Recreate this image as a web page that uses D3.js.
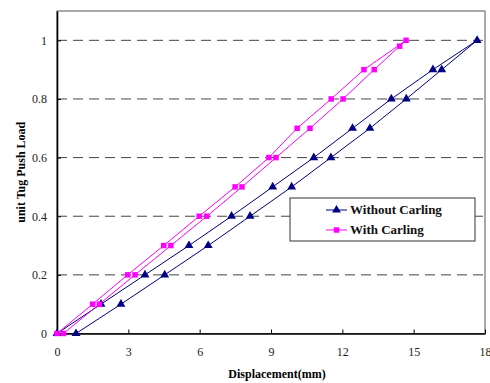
<!DOCTYPE html>
<html>
<head>
<meta charset="utf-8">
<script src="https://cdn.jsdelivr.net/npm/d3@7"></script>
<style>
  body { margin: 0; background: #fff; }
  svg text { font-family: "Liberation Serif", "Times New Roman", serif; }
</style>
</head>
<body>
<svg id="chart" width="490" height="383"></svg>
<script>
// load levels (unit tug push load), loop goes up one branch and back down the other
var loadUp = [0, 0.1, 0.2, 0.3, 0.4, 0.5, 0.6, 0.7, 0.8, 0.9, 1.0];
var noCarlingUp = [0, 1.85, 3.70, 5.55, 7.34, 9.07, 10.80, 12.43, 14.06, 15.81, 17.67];
var noCarlingDownLoad = [0.9, 0.8, 0.7, 0.6, 0.5, 0.4, 0.3, 0.2, 0.1, 0];
var noCarlingDown = [16.18, 14.69, 13.16, 11.52, 9.87, 8.12, 6.36, 4.53, 2.69, 0.80];

var withCarlingUp = [0, 1.50, 2.97, 4.49, 5.98, 7.49, 8.91, 10.10, 11.53, 12.91, 14.68];
var withCarlingDownLoad = [0.98, 0.9, 0.8, 0.7, 0.6, 0.5, 0.4, 0.3, 0.2, 0.1, 0];
var withCarlingDown = [14.41, 13.34, 12.03, 10.64, 9.21, 7.78, 6.30, 4.79, 3.28, 1.78, 0.27];

var xTicks = [0, 3, 6, 9, 12, 15, 18];
var yTicks = [0, 0.2, 0.4, 0.6, 0.8, 1];
var seriesNames = ["Without Carling", "With Carling"];

function toPoints(upX, upY, downX, downY) {
    var pts = upX.map(function(v, i) { return {x: v, y: upY[i]}; });
    downX.forEach(function(v, i) { pts.push({x: v, y: downY[i]}); });
    return pts;
}

var series = [
    {name: seriesNames[0], color: "#000080", shape: d3.symbolTriangle, size: 34,
     points: toPoints(noCarlingUp, loadUp, noCarlingDown, noCarlingDownLoad)},
    {name: seriesNames[1], color: "#FF00FF", shape: d3.symbolSquare, size: 30,
     points: toPoints(withCarlingUp, loadUp, withCarlingDown, withCarlingDownLoad)}
];

var serif = "'Liberation Serif', 'Times New Roman', serif";
var margin = {top: 11, right: 5, bottom: 49.5, left: 57};
var width = 490 - margin.left - margin.right,
    height = 383 - margin.top - margin.bottom;

var svg = d3.select("#chart")
    .append("g")
    .attr("transform", "translate(" + margin.left + "," + margin.top + ")");

var x = d3.scaleLinear().domain([0, 18]).range([0, width]);
var y = d3.scaleLinear().domain([0, 1.1]).range([height, 0]);

// dashed gridlines
svg.selectAll(".grid")
    .data(yTicks.filter(function(d) { return d > 0; }))
    .enter().append("line")
    .attr("x1", 0).attr("x2", width)
    .attr("y1", function(d) { return y(d); })
    .attr("y2", function(d) { return y(d); })
    .attr("stroke", "#444")
    .attr("stroke-width", 1)
    .attr("stroke-dasharray", "10,6");

// frame
svg.append("rect")
    .attr("width", width).attr("height", height)
    .attr("fill", "none")
    .attr("stroke", "#555")
    .attr("stroke-width", 1);

// axes
var xAxis = d3.axisBottom(x).tickValues(xTicks).tickSizeInner(-4).tickSizeOuter(0).tickPadding(14);
var yAxis = d3.axisLeft(y).tickValues(yTicks).tickFormat(d3.format("~g"))
    .tickSizeInner(-4).tickSizeOuter(0).tickPadding(10);

var gx = svg.append("g").attr("transform", "translate(0," + height + ")").call(xAxis);
var gy = svg.append("g").call(yAxis);

[gx, gy].forEach(function(g) {
    g.attr("font-family", serif);
    g.select(".domain").attr("stroke", "#000").attr("stroke-width", 1.6);
    g.selectAll(".tick line").attr("stroke", "#000").attr("stroke-width", 1);
    g.selectAll(".tick text").attr("font-size", 12).attr("fill", "#222")
        .style("font-family", serif);
});

// lines and markers
var line = d3.line()
    .x(function(d) { return x(d.x); })
    .y(function(d) { return y(d.y); });

series.forEach(function(s) {
    svg.append("path")
        .datum(s.points)
        .attr("d", line)
        .attr("fill", "none")
        .attr("stroke", s.color)
        .attr("stroke-width", 1);

    svg.selectAll(null)
        .data(s.points)
        .enter().append("path")
        .attr("transform", function(d) { return "translate(" + x(d.x) + "," + y(d.y) + ")"; })
        .attr("d", d3.symbol().type(s.shape).size(s.size))
        .attr("fill", s.color);
});

// legend
var legend = svg.append("g").attr("transform", "translate(" + (290 - margin.left) + "," + (198 - margin.top) + ")");
legend.append("rect")
    .attr("width", 185).attr("height", 43)
    .attr("fill", "#fff")
    .attr("stroke", "#333")
    .attr("stroke-width", 1);

var item = legend.selectAll(".item")
    .data(series)
    .enter().append("g")
    .attr("transform", function(d, i) { return "translate(0," + (12 + i * 20) + ")"; });

item.append("line")
    .attr("x1", 36).attr("x2", 57)
    .attr("stroke", function(d) { return d.color; })
    .attr("stroke-width", 1);

item.append("path")
    .attr("transform", "translate(46.5,0)")
    .attr("d", function(d) { return d3.symbol().type(d.shape).size(d.size)(); })
    .attr("fill", function(d) { return d.color; });

item.append("text")
    .attr("x", 60).attr("y", 4)
    .attr("font-size", 13)
    .attr("font-weight", "bold")
    .attr("fill", "#111")
    .style("font-family", serif)
    .text(function(d) { return d.name; });

// axis titles
svg.append("text")
    .attr("x", 220).attr("y", height + 44)
    .attr("text-anchor", "middle")
    .attr("font-size", 12)
    .attr("font-weight", "bold")
    .style("font-family", serif)
    .text("Displacement(mm)");

svg.append("text")
    .attr("transform", "translate(" + (25 - margin.left) + "," + (height / 2) + ") rotate(-90)")
    .attr("text-anchor", "middle")
    .attr("font-size", 12)
    .attr("font-weight", "bold")
    .style("font-family", serif)
    .text("unit Tug Push Load");
</script>
</body>
</html>
